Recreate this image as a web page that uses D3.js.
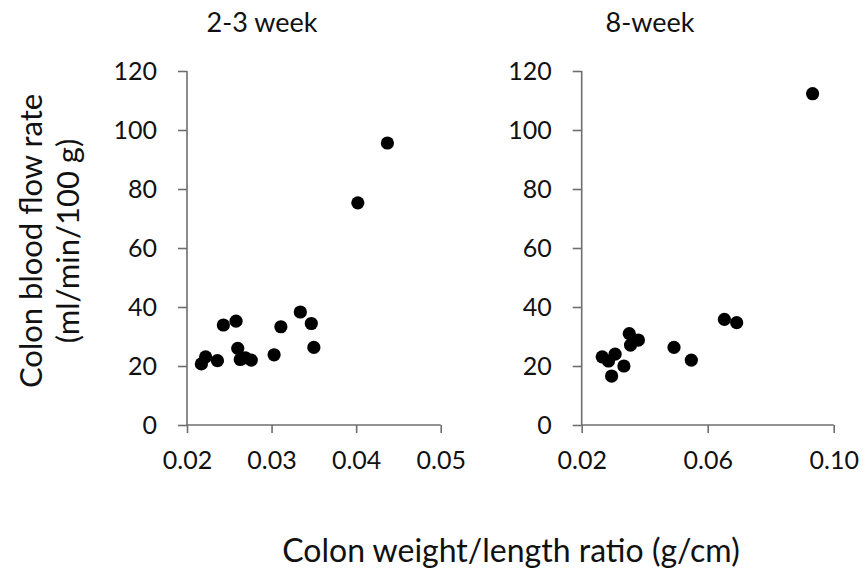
<!DOCTYPE html>
<html>
<head>
<meta charset="utf-8">
<script src="https://cdn.jsdelivr.net/npm/d3@7"></script>
<style>
  body { margin: 0; background: #fff; }
  svg text { font-family: Lato, "Open Sans", sans-serif; fill: #111; }
</style>
</head>
<body>
<div id="chart"></div>
<script>
var width = 866, height = 583;

// 2-3 week group
var earlyRatio = [0.0217, 0.0222, 0.0236, 0.0243, 0.0258, 0.0260, 0.0263, 0.0269, 0.0276, 0.0303, 0.0311, 0.0334, 0.0347, 0.0350, 0.0402, 0.0437];
var earlyFlow  = [20.7, 23.1, 21.8, 33.9, 35.2, 26.0, 22.2, 22.8, 22.0, 23.8, 33.3, 38.3, 34.4, 26.3, 75.3, 95.6];

// 8-week group
var lateRatio = [0.0265, 0.0285, 0.0306, 0.0295, 0.0334, 0.0351, 0.0355, 0.0380, 0.0493, 0.0548, 0.0653, 0.0692, 0.0933];
var lateFlow  = [23.1, 21.7, 24.0, 16.6, 20.0, 31.0, 27.1, 28.8, 26.3, 22.0, 35.8, 34.7, 112.3];

var yTicks = [0, 20, 40, 60, 80, 100, 120];
var earlyTicks = [0.02, 0.03, 0.04, 0.05];
var lateTicks = [0.02, 0.06, 0.10];

var svg = d3.select('#chart').append('svg')
  .attr('width', width)
  .attr('height', height);

var y = d3.scaleLinear().domain([0, 120]).range([425, 71]);

function panel(x0, x1, domain, ticks, fmt, xs, ys, title) {
  var x = d3.scaleLinear().domain(domain).range([x0, x1]);
  var g = svg.append('g');

  var yAxis = g.append('g')
    .attr('transform', 'translate(' + x0 + ',0)')
    .call(d3.axisLeft(y).tickValues(yTicks).tickSize(9).tickPadding(21).tickFormat(d3.format('d')));

  var xAxis = g.append('g')
    .attr('transform', 'translate(0,425)')
    .call(d3.axisBottom(x).tickValues(ticks).tickSize(8).tickPadding(18).tickFormat(fmt));

  [xAxis, yAxis].forEach(function(a) {
    a.select('.domain').attr('stroke', '#6e6e6e').attr('stroke-width', 1.6)
      .attr('d', a === xAxis ? 'M' + x0 + ',0H' + x1 : 'M0,' + y(0) + 'V' + y(120));
    a.selectAll('.tick line').attr('stroke', '#6e6e6e').attr('stroke-width', 1.6);
    a.selectAll('.tick text').style('font-size', '25px').attr('fill', '#111');
    a.attr('font-family', null);
  });

  g.selectAll('circle')
    .data(xs)
    .enter()
    .append('circle')
    .attr('cx', function(d){ return x(d) })
    .attr('cy', function(d, i){ return y(ys[i]) })
    .attr('r', 6.6)
    .attr('fill', '#000');

  g.append('text')
    .attr('x', title.x)
    .attr('y', 32)
    .attr('text-anchor', 'middle')
    .style('font-size', '27px')
    .text(title.text);
}

panel(187, 440.7, [0.02, 0.05], earlyTicks, d3.format('.2f'), earlyRatio, earlyFlow, {x: 262, text: '2-3 week'});
panel(581.7, 833.7, [0.02, 0.10], lateTicks, d3.format('.2f'), lateRatio, lateFlow, {x: 650, text: '8-week'});

var yTitle = svg.append('text')
  .attr('transform', 'translate(42,241) rotate(-90)')
  .attr('text-anchor', 'middle')
  .style('font-size', '31px');
yTitle.append('tspan').attr('x', 0).attr('y', 0).text('Colon blood flow rate');
yTitle.append('tspan').attr('x', 0).attr('y', 37).text('(ml/min/100 g)');

svg.append('text')
  .attr('x', 511)
  .attr('y', 562)
  .attr('text-anchor', 'middle')
  .style('font-size', '32px')
  .text('Colon weight/length ratio (g/cm)');
</script>
</body>
</html>
